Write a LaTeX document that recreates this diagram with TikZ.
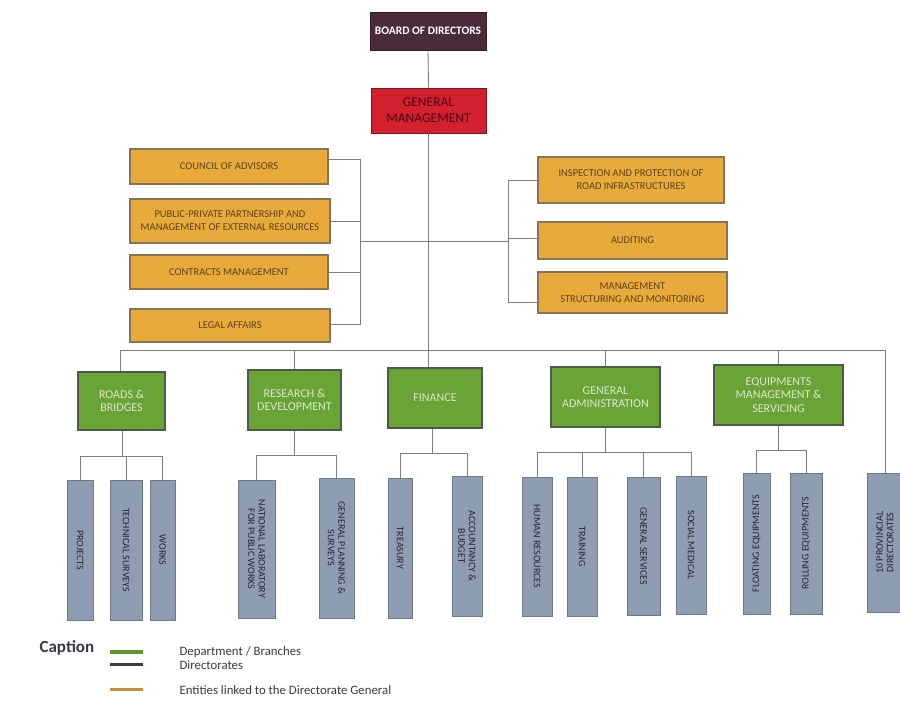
\documentclass[tikz,border=0pt]{standalone}
\usepackage{fontspec}
\setmainfont{Carlito}
\usetikzlibrary{calc}
\definecolor{boardc}{HTML}{4B2A3A}
\definecolor{gmc}{HTML}{D3202F}
\definecolor{orangec}{HTML}{E9AA3C}
\definecolor{orangeb}{HTML}{857556}
\definecolor{greenc}{HTML}{6AA336}
\definecolor{greenb}{HTML}{4E5A48}
\definecolor{barc}{HTML}{8F9DB3}
\definecolor{barb}{HTML}{6D7889}
\definecolor{linec}{HTML}{7C7C7C}
\definecolor{dirc}{HTML}{363B47}
\tikzset{
  box/.style 2 args={minimum width=#1, minimum height=#2, inner sep=0pt, align=center},
  boardbox/.style={draw=boardc!70!black, fill=boardc, text=white, font=\fontsize{11.5}{12}\selectfont\bfseries, line width=0.8pt},
  gmbox/.style={draw=gmc!60!black, fill=gmc, text=gmc!35!black, font=\fontsize{13.5}{16}\selectfont, line width=0.8pt},
  entity/.style={draw=orangeb, fill=orangec, text=orangec!40!black, font=\fontsize{10.5}{13}\selectfont, line width=1.2pt},
  dept/.style={draw=greenb, fill=greenc, text=greenc!25!white, font=\fontsize{12}{13.5}\selectfont, line width=1.2pt},
  bar/.style={draw=barb, fill=barc, line width=0.8pt},
  barlabel/.style={text=barc!25!black, font=\fontsize{10}{10.5}\selectfont, inner sep=0pt, align=center},
  link/.style={draw=linec, line width=0.9pt},
  keybar/.style={line width=3.5pt},
  keytext/.style={anchor=west, font=\fontsize{12.8}{13}\selectfont, text=dirc},
}
\begin{document}
\begin{tikzpicture}[x=1pt,y=-1pt]
\useasboundingbox (0,0) rectangle (900,713);
\fill[white] (0,0) rectangle (900,713);

% top of the hierarchy
\node[boardbox, box={116pt}{38pt}] (board) at (428,31) {BOARD OF DIRECTORS};
\node[gmbox, box={115pt}{45pt}] (gm) at (428.5,110.5) {GENERAL\\MANAGEMENT};

% entities attached to the general management
\node[entity, box={198pt}{35pt}] (coa) at (229,166.5) {COUNCIL OF ADVISORS};
\node[entity, box={200pt}{44pt}] (ppp) at (230,221) {PUBLIC-PRIVATE PARTNERSHIP AND\\MANAGEMENT OF EXTERNAL RESOURCES};
\node[entity, box={198pt}{34pt}] (con) at (229,272) {CONTRACTS MANAGEMENT};
\node[entity, box={200pt}{33pt}] (leg) at (230,325.5) {LEGAL AFFAIRS};
\node[entity, box={186pt}{46pt}] (ins) at (631,180) {INSPECTION AND PROTECTION OF\\ROAD INFRASTRUCTURES};
\node[entity, box={189pt}{37pt}] (aud) at (632.5,240.5) {AUDITING};
\node[entity, box={189pt}{41pt}] (msm) at (632.5,292.5) {MANAGEMENT\\STRUCTURING AND MONITORING};

% departments
\node[dept, box={87pt}{58pt}] (roads) at (121.5,401) {ROADS \&\\BRIDGES};
\node[dept, box={93pt}{60pt}] (rnd) at (294.5,400) {RESEARCH \&\\DEVELOPMENT};
\node[dept, box={94pt}{60pt}] (fin) at (435,398) {FINANCE};
\node[dept, box={109pt}{60pt}] (gad) at (605.5,397) {GENERAL\\ADMINISTRATION};
\node[dept, box={129pt}{60pt}] (eqp) at (778.5,395) {EQUIPMENTS\\MANAGEMENT \&\\SERVICING};

% directorates (upright bars, vertical labels)
\node[bar, box={26pt}{140pt}] (pro) at (80,550) {};
\node[barlabel, rotate=-90] (pro-l) at (pro) {PROJECTS};
\node[bar, box={32pt}{140pt}] (tec) at (126,550) {};
\node[barlabel, rotate=-90] (tec-l) at (tec) {TECHNICAL SURVEYS};
\node[bar, box={25pt}{140pt}] (wor) at (162.5,550) {};
\node[barlabel, rotate=-90] (wor-l) at (wor) {WORKS};
\node[bar, box={37pt}{138pt}] (nat) at (256.5,549) {};
\node[barlabel, rotate=-90] (nat-l) at (nat) {NATIONAL LABORATORY\\FOR PUBLIC WORKS};
\node[bar, box={35pt}{140pt}] (gps) at (336.5,548) {};
\node[barlabel, rotate=-90] (gps-l) at (gps) {GENERAL PLANNING \&\\SURVEYS};
\node[bar, box={24pt}{140pt}] (tre) at (400,548) {};
\node[barlabel, rotate=-90] (tre-l) at (tre) {TREASURY};
\node[bar, box={30pt}{140pt}] (acc) at (467,546) {};
\node[barlabel, rotate=-90] (acc-l) at (acc) {ACCOUNTANCY \&\\BUDGET};
\node[bar, box={30pt}{139pt}] (hr) at (537,546.5) {};
\node[barlabel, rotate=-90] (hr-l) at (hr) {HUMAN RESOURCES};
\node[bar, box={30pt}{139pt}] (trn) at (582,546.5) {};
\node[barlabel, rotate=-90] (trn-l) at (trn) {TRAINING};
\node[bar, box={33pt}{138pt}] (gsv) at (643.5,546) {};
\node[barlabel, rotate=-90] (gsv-l) at (gsv) {GENERAL SERVICES};
\node[bar, box={30pt}{138pt}] (soc) at (691,545) {};
\node[barlabel, rotate=-90] (soc-l) at (soc) {SOCIAL MEDICAL};
\node[bar, box={27pt}{141pt}] (flt) at (756.5,543.5) {};
\node[barlabel, rotate=90] (flt-l) at (flt) {FLOATING EQUIPMENTS};
\node[bar, box={32pt}{141pt}] (rol) at (806,543.5) {};
\node[barlabel, rotate=90] (rol-l) at (rol) {ROLLING EQUIPMENTS};
\node[bar, box={36pt}{139pt}] (prv) at (885,542.5) {};
\node[barlabel, rotate=90] (prv-l) at (prv) {10 PROVINCIAL\\DIRECTORATES};

% main spine
\draw[link] (board.south) -- (gm.north);
\coordinate (busL) at (120,350);
\coordinate (busR) at (885,350);
\coordinate (bracketL) at (360,241);
\coordinate (bracketR) at (508,241);
\draw[link] (gm.south) -- (gm.south |- busL);
\draw[link] (bracketL) -- (bracketR);

% left bracket
\draw[link] ([yshift=7pt]coa.east) -| (bracketL);
\draw[link] (ppp.east) -- (ppp.east -| bracketL);
\draw[link] (con.east) -- (con.east -| bracketL);
\draw[link] ([yshift=1pt]leg.east) -| (bracketL);

% right bracket
\draw[link] (ins.west) -| (bracketR);
\draw[link] ([yshift=2pt]aud.west) -- ([yshift=2pt]aud.west -| bracketR);
\draw[link] ([yshift=-10pt]msm.west) -| (bracketR);

% bus to departments
\draw[link] (busL) -- (busR);
\draw[link] (busL) -- (roads.north -| busL);
\draw[link] (rnd.north |- busL) -- (rnd.north);
\draw[link] (gm.south |- busL) -- (gm.south |- fin.north);
\draw[link] (gad.north |- busL) -- (gad.north);
\draw[link] (eqp.north |- busL) -- (eqp.north);
\draw[link] (busR) -- (prv.north);

% departments to directorates
\coordinate (jr) at (122,456);
\draw[link] (roads.south -| jr) -- (jr);
\draw[link] (pro.north) -- (pro.north |- jr) -- (wor.north |- jr) -- (wor.north);
\draw[link] (tec.north) -- (tec.north |- jr);

\coordinate (jd) at (294.5,455);
\draw[link] (rnd.south) -- (jd);
\draw[link] (nat.north) -- (nat.north |- jd) -- (gps.north |- jd) -- (gps.north);

\coordinate (jf) at (432,453);
\draw[link] (fin.south -| jf) -- (jf);
\draw[link] (tre.north) -- (tre.north |- jf) -- (acc.north |- jf) -- (acc.north);

\coordinate (ja) at (605.5,452);
\draw[link] (gad.south) -- (ja);
\draw[link] (hr.north) -- (hr.north |- ja) -- (soc.north |- ja) -- (soc.north);
\draw[link] (trn.north) -- (trn.north |- ja);
\draw[link] (gsv.north) -- (gsv.north |- ja);

\coordinate (je) at (778.5,450);
\draw[link] (eqp.south) -- (je);
\draw[link] (flt.north) -- (flt.north |- je) -- (rol.north |- je) -- (rol.north);

% key
\node[anchor=west, font=\fontsize{17}{18}\selectfont\bfseries, text=dirc] (cap) at (36,648) {Caption};
\coordinate (k1) at (110,652);
\coordinate (k2) at (110,664.5);
\coordinate (k3) at (110,689.5);
\draw[keybar, draw=greenc!90!black] (k1) -- ++(33,0);
\draw[keybar, draw=dirc] (k2) -- ++(33,0);
\draw[keybar, draw=orangec!85!black] (k3) -- ++(33,0);
\node[keytext] (t1) at (176,652) {Department / Branches};
\node[keytext] (t2) at (176,665.5) {Directorates};
\node[keytext] (t3) at (176,690) {Entities linked to the Directorate General};
\end{tikzpicture}
\end{document}
